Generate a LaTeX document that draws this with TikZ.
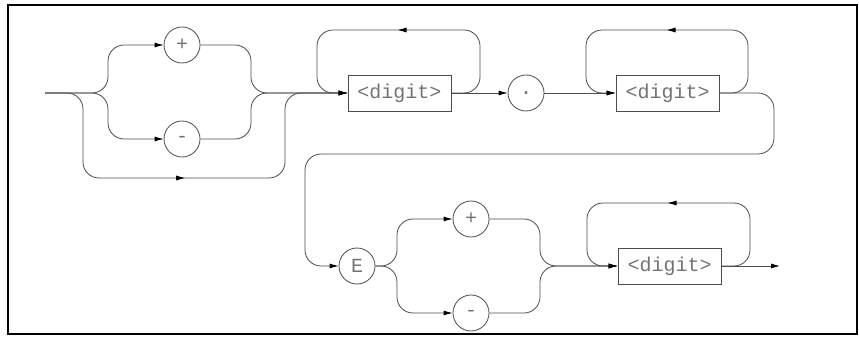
\documentclass[tikz,border=0pt]{standalone}
\usepackage{fontspec}
\setmonofont{Liberation Mono}
\usetikzlibrary{arrows.meta,decorations.markings}

\begin{document}
\begin{tikzpicture}[x=1pt,y=-1pt,
    rail/.style={draw=black!70, line width=0.8pt, rounded corners=16pt},
    arr/.style={-{Latex[length=9pt,width=5pt,color=black]}},
    midarr/.style={postaction={decorate,decoration={markings,
        mark=at position #1 with {\arrow{Latex[length=9pt,width=5pt,color=black]}}}}},
    term/.style={circle, draw=black!70, line width=0.8pt, minimum size=36pt,
        inner sep=0pt, text=black!55, font=\ttfamily\fontsize{20}{20}\selectfont},
    nonterm/.style={rectangle, draw=black!70, line width=0.8pt, minimum width=103pt,
        minimum height=36pt, inner sep=0pt, text=black!55,
        font=\ttfamily\fontsize{20}{20}\selectfont}]
    \useasboundingbox (0,0) rectangle (859,347);
    \draw[line width=2pt] (8,5) rectangle (857,334);

    % first row
    \coordinate (in) at (45,93);
    \node[term] (plusA) at (182,45) {+};
    \node[term] (minusA) at (182,139) {-};
    \node[nonterm] (digA) at (399.5,93) {<digit>};
    \node[term] (dot) at (526,93) {.};
    \node[nonterm] (digB) at (667.5,93) {<digit>};

    % second row
    \node[term] (E) at (357,266) {E};
    \node[term] (plusB) at (471,219) {+};
    \node[term] (minusB) at (471,313) {-};
    \node[nonterm] (digC) at (669.5,266) {<digit>};
    \coordinate (out) at (780,266);

    % sign
    \draw[rail, arr] (in) -- (108,93) |- (plusA);
    \draw[rail, arr] (in) -- (108,93) |- (minusA);
    \draw[rail, arr] (plusA) -| (251,93) -- (digA);
    \draw[rail, arr] (minusA) -| (251,93) -- (digA);
    \draw[rail, arr, midarr=0.475] (in) -- (83,93) -- (83,178) -- (285,178) -- (285,93) -- (digA);

    % mantissa
    \draw[rail, arr, midarr=0.5] (digA.east) -- (480,93) -- (480,30) -- (317,30) -- (317,93) -- (digA.west);
    \draw[rail, arr] (digA) -- (dot);
    \draw[rail, arr] (dot) -- (digB);
    \draw[rail, arr, midarr=0.5] (digB.east) -- (748,93) -- (748,30) -- (586,30) -- (586,93) -- (digB.west);
    \draw[rail, arr] (digB.east) -- (774,93) -- (774,154) -- (305,154) -- (305,266) -- (E);

    % exponent
    \draw[rail, arr] (E) -- (397,266) |- (plusB);
    \draw[rail, arr] (E) -- (397,266) |- (minusB);
    \draw[rail, arr] (plusB) -| (540,266) -- (digC);
    \draw[rail, arr] (minusB) -| (540,266) -- (digC);
    \draw[rail, arr, midarr=0.5] (digC.east) -- (750,266) -- (750,203) -- (587,203) -- (587,266) -- (digC.west);
    \draw[rail, arr] (digC) -- (out);
\end{tikzpicture}
\end{document}
